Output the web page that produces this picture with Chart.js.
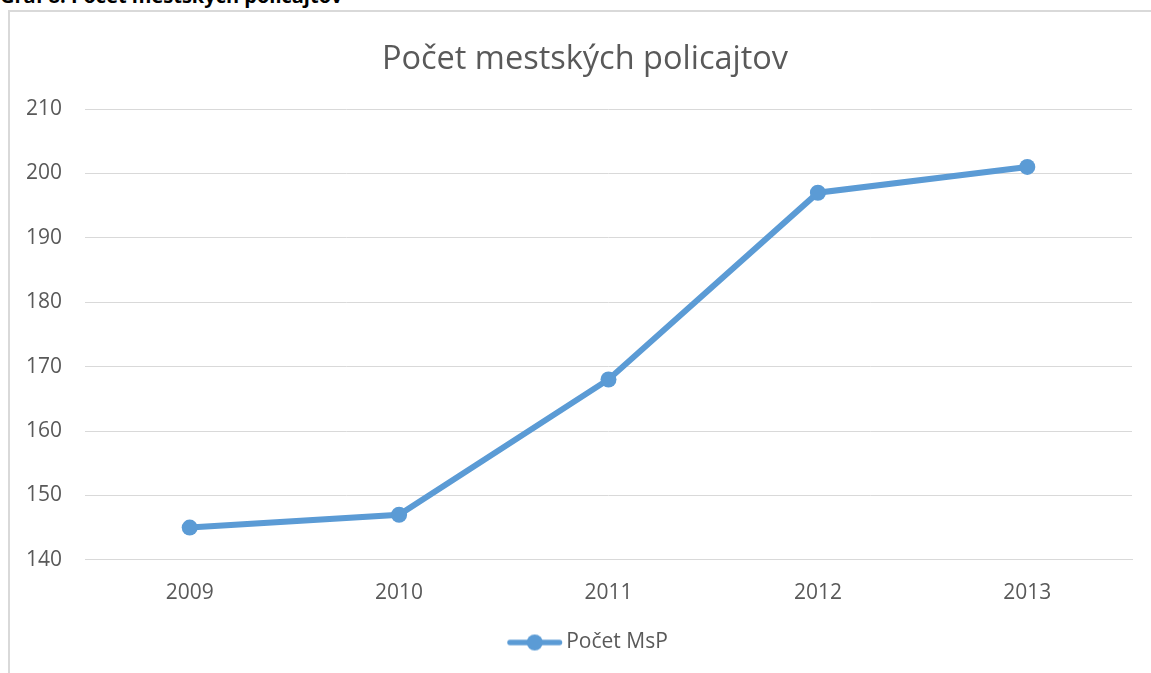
<!DOCTYPE html>
<html>
<head>
<meta charset="utf-8">
<script src="https://cdn.jsdelivr.net/npm/chart.js@4/dist/chart.umd.min.js"></script>
<style>
  body { margin: 0; background: #fff; width: 1151px; height: 673px; overflow: hidden; position: relative; }
  #caption { position: absolute; left: 0; top: -18px; font: bold 20px "Open Sans", sans-serif; color: #000; white-space: nowrap; }
  #box { position: absolute; left: 8px; top: 10px; width: 1143px; height: 663px; border-left: 2px solid #d9d9d9; border-top: 2px solid #d9d9d9; box-sizing: border-box; }
  #chart { position: absolute; left: 9px; top: 11px; }
</style>
</head>
<body>
<div id="caption">Graf 8: Počet mestských policajtov</div>
<div id="box"></div>
<canvas id="chart" width="1142" height="662"></canvas>
<script>
var years = ["2009", "2010", "2011", "2012", "2013"];
var policemen = [145, 147, 168, 197, 201];
var seriesName = "Počet MsP";
var chartTitle = "Počet mestských policajtov";

var blue = '#5b9bd5';
var grey = '#595959';

// legend marker: line with a dot in the middle
var marker = document.createElement('canvas');
marker.width = 72;
marker.height = 18;
var m = marker.getContext('2d');
m.strokeStyle = blue;
m.lineWidth = 5.5;
m.lineCap = 'round';
m.beginPath();
m.moveTo(17, 9);
m.lineTo(66.5, 9);
m.stroke();
m.fillStyle = blue;
m.beginPath();
m.arc(41.75, 9, 8, 0, Math.PI * 2);
m.fill();

// y labels stick out past the narrow axis box, so widen its clip after layout
var unclipY = {
    id: 'unclipY',
    afterLayout: function(chart) {
        chart.scales.y.left = 0;
    }
};

var ctx = document.querySelector('#chart').getContext('2d');

var chart = new Chart(ctx, {
    type: 'line',
    data: {
        labels: years,
        datasets: [{
            label: seriesName,
            data: policemen,
            borderColor: blue,
            backgroundColor: blue,
            borderWidth: 6,
            pointRadius: 8,
            pointHoverRadius: 8,
            pointBackgroundColor: blue,
            pointBorderWidth: 0,
            tension: 0
        }]
    },
    plugins: [unclipY],
    options: {
        responsive: false,
        animation: false,
        layout: {
            padding: { left: 29, right: 19, top: 0, bottom: 10 }
        },
        plugins: {
            title: {
                display: true,
                text: chartTitle,
                color: grey,
                font: { family: 'Open Sans', size: 32.5, weight: 'normal' },
                padding: { top: 29, bottom: 30 }
            },
            legend: {
                display: true,
                position: 'bottom',
                labels: {
                    usePointStyle: true,
                    pointStyle: marker,
                    pointStyleWidth: 53.5,
                    color: grey,
                    font: { family: 'Open Sans', size: 21 },
                    padding: 5,
                    generateLabels: function(c) {
                        return [{
                            text: seriesName,
                            pointStyle: marker,
                            fillStyle: blue,
                            strokeStyle: blue,
                            fontColor: grey,
                            lineWidth: 0,
                            datasetIndex: 0
                        }];
                    }
                }
            },
            tooltip: { enabled: false }
        },
        scales: {
            x: {
                offset: true,
                grid: { display: false, drawTicks: false },
                border: { display: true, color: '#d9d9d9', width: 1 },
                ticks: {
                    color: grey,
                    font: { family: 'Open Sans', size: 21 },
                    padding: 21
                }
            },
            y: {
                min: 140,
                max: 210,
                afterFit: function(scale) { scale.width = 47; },
                grid: { color: '#d9d9d9', lineWidth: 1, drawTicks: false },
                border: { display: false },
                ticks: {
                    stepSize: 10,
                    color: grey,
                    font: { family: 'Open Sans', size: 21 },
                    padding: 23
                }
            }
        }
    }
});
</script>
</body>
</html>
